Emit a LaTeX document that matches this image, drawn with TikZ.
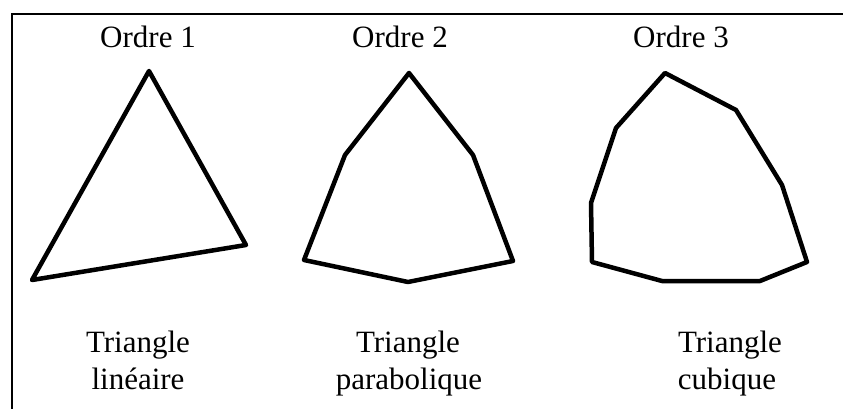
\documentclass[tikz,border=0pt]{standalone}
\usepackage{fontspec}
\setmainfont{Liberation Serif}
\tikzset{
  outline/.style={line width=4.5pt, line join=round, line cap=round},
  frame/.style={line width=1.8pt},
  lbl/.style={font=\fontsize{31}{37}\selectfont, anchor=base, inner sep=0pt, align=center}
}
\begin{document}
\begin{tikzpicture}[x=1pt,y=-1pt]
\useasboundingbox (0,0) rectangle (843,409);
% frame
\draw[frame] (12,409) -- (12,14) -- (843,14);
% titles
\node[lbl] (o1) at (148,48) {Ordre 1};
\node[lbl] (o2) at (400,48) {Ordre 2};
\node[lbl] (o3) at (681,48) {Ordre 3};
% shapes
\draw[outline] (149,71) -- (246,245) -- (32,280) -- cycle;
\draw[outline] (409,73) -- (473,155) -- (513,261) -- (408,282) -- (304,260) -- (345,155) -- cycle;
\draw[outline] (665,73) -- (736,110) -- (782,185) -- (807,262) -- (760,281) -- (662,281) -- (592,262) -- (591,203) -- (616,128) -- cycle;
% captions
\node[lbl] (c1a) at (138,352) {Triangle};
\node[lbl] (c1b) at (138,389) {linéaire};
\node[lbl] (c2a) at (408,352) {Triangle};
\node[lbl] (c2b) at (409,389) {parabolique};
\node[lbl] (c3a) at (730,352) {Triangle};
\node[lbl] (c3b) at (727,389) {cubique};
\end{tikzpicture}
\end{document}
